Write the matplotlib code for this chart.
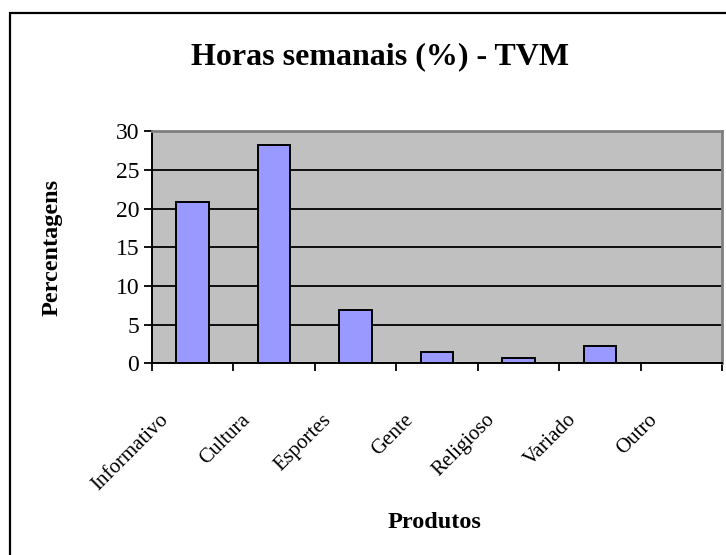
import matplotlib
matplotlib.use("Agg")
import matplotlib.pyplot as plt
from matplotlib.patches import Rectangle
from matplotlib.transforms import ScaledTranslation

categories = ["Informativo", "Cultura", "Esportes", "Gente", "Religioso", "Variado", "Outro"]
values = [20.9, 28.2, 6.9, 1.5, 0.65, 2.25, 0.0]

plt.rcParams["font.family"] = ["Liberation Serif", "DejaVu Serif"]

fig = plt.figure(figsize=(7.26, 5.55), dpi=100)
ax = fig.add_axes([0.209, 0.3454, 0.7855, 0.4177])

ax.set_facecolor("#C0C0C0")
ax.yaxis.grid(True, color="black", linewidth=1.3)
ax.set_axisbelow(True)

x = list(range(len(categories)))
ax.bar(x, values, width=0.4, color="#9999FF", edgecolor="black", linewidth=1.4, zorder=3)

ax.set_xlim(-0.5, len(categories) - 0.5)
ax.set_ylim(0, 30)
ax.set_yticks([0, 5, 10, 15, 20, 25, 30])

# ticks sit between categories, labels drawn by hand at the centres
ax.set_xticks([i - 0.5 for i in range(len(categories) + 1)])
ax.set_xticklabels([])
offset = ScaledTranslation(-24 / 72, -34 / 72, fig.dpi_scale_trans)
for i, name in enumerate(categories):
    ax.text(i, 0, name, transform=ax.get_xaxis_transform() + offset,
            rotation=45, ha="right", va="top", rotation_mode="anchor", fontsize=15)
ax.tick_params(axis="x", length=6, width=1.3, direction="out")
ax.tick_params(axis="y", length=6, width=1.3, direction="out", labelsize=17, pad=3)

for side in ["top", "right"]:
    ax.spines[side].set_color("#808080")
    ax.spines[side].set_linewidth(2)
for side in ["left", "bottom"]:
    ax.spines[side].set_color("black")
    ax.spines[side].set_linewidth(1.4)

fig.text(0.524, 0.897, "Horas semanais (%) - TVM", ha="center", va="center",
         fontsize=23, fontweight="bold")
fig.text(0.072, 0.555, "Percentagens", ha="center", va="center", rotation=90,
         fontsize=17.5, fontweight="bold")
fig.text(0.599, 0.058, "Produtos", ha="center", va="center",
         fontsize=17.5, fontweight="bold")

fig.patches.append(Rectangle((10 / 726, -0.1), 1.2, 1 - 13 / 555 + 0.1,
                             transform=fig.transFigure, fill=False,
                             edgecolor="black", linewidth=1.6))

fig.savefig("out.png", dpi=100)
